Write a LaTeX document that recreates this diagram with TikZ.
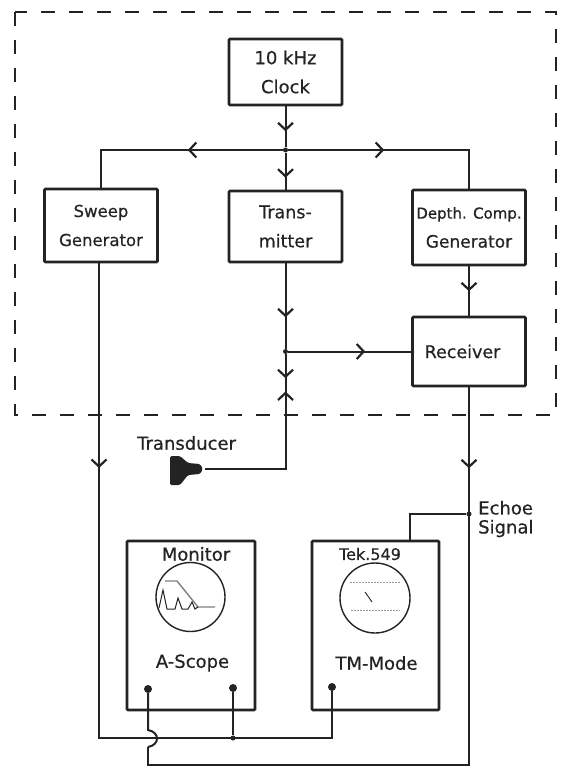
\documentclass[tikz,border=0pt]{standalone}
\usepackage{fontspec}
\setmainfont{DejaVu Sans}[RawFeature={embolden=0.5}]
\usetikzlibrary{arrows.meta,decorations.markings}
\definecolor{echoScopeInk}{RGB}{35,35,35}
\tikzset{echoScopeBlock/.style={
    font=\fontsize{16.5}{29}\selectfont,
    text=echoScopeInk,
    align=center,
    draw=echoScopeInk,
    line width=2.6pt,
    rounded corners=1pt,
    inner sep=0pt,
    minimum width=113pt,
    minimum height=71pt,
  }
}
\tikzset{echoScopeLabel/.style={
    font=\fontsize{18}{19}\selectfont,
    text=echoScopeInk,
    align=left,
    inner sep=0pt,
  }
}
\tikzset{echoScopeWire/.style={
    draw=echoScopeInk,
    line width=2pt,
  }
}
\tikzset{echoScopeArrow/.style={
    echoScopeWire,
    postaction={decorate},
    decoration={markings,
      mark=at position #1 with {\arrow[echoScopeInk]{Straight Barb[length=7pt,width=15pt,line width=2.2pt]}}},
  }
}
\tikzset{echoScopeDot/.style={
    circle,
    fill=echoScopeInk,
    inner sep=0pt,
    minimum size=#1,
  }
}
\begin{document}
\begin{tikzpicture}[x=1pt,y=-1pt]
  \useasboundingbox (0,0) rectangle (563,767);

  \draw [draw=echoScopeInk, line width=1.8pt, dash pattern=on 14pt off 14pt]
    (15,12) rectangle (556,415);

  \node [echoScopeBlock, minimum height=66pt, font=\fontsize{18}{29}\selectfont] (clock) at (285.5,72) {10 kHz\\Clock};
  \node [echoScopeBlock, minimum height=73pt] (sweep) at (101,225.5) {Sweep\\Generator};
  \node [echoScopeBlock, font=\fontsize{17.5}{29}\selectfont] (transmitter) at (285.5,226.5) {Trans-\\mitter};
  \node [echoScopeBlock, minimum height=75pt] (depth) at (469,227.5) {\fontsize{15}{29}\selectfont Depth. Comp.\\\fontsize{17}{29}\selectfont Generator};
  \node [echoScopeBlock, minimum height=69pt, font=\fontsize{17.5}{29}\selectfont] (receiver) at (469,351.5) {Receiver\hspace*{13pt}};
  \node [echoScopeBlock, minimum width=128pt, minimum height=169pt] (monitor) at (191,625.5) {};
  \node [echoScopeBlock, minimum width=127pt, minimum height=169pt] (tek) at (375.5,625.5) {};

  \node [echoScopeLabel] (monitorTitle) at (196,554) {Monitor};
  \node [echoScopeLabel] (aScope) at (192.5,663) {A-Scope};
  \node [echoScopeLabel, font=\fontsize{16}{19}\selectfont] (tekTitle) at (370,554) {Tek.549};
  \node [echoScopeLabel] (tmMode) at (376.5,663) {TM-Mode};
  \node [echoScopeLabel, anchor=west] (transducerText) at (137,443) {Transducer};
  \node [echoScopeLabel, anchor=west] (echoText) at (478,519) {Echoe\\Signal};

  % scope screens
  \node [draw=echoScopeInk, line width=1.4pt, circle, inner sep=0pt, minimum size=69pt] (monitorScreen) at (190.5,597) {};
  \node [draw=echoScopeInk, line width=1.4pt, circle, inner sep=0pt, minimum size=70pt] (tekScreen) at (375,598) {};
  \draw [gray, line width=1.4pt] (165,581) -- (177,581) -- (198,607) -- (215,607);
  \draw [echoScopeInk, line width=1pt] (159,608) -- (163,590) -- (167,609) -- (175,609) -- (178,598) -- (182,609) -- (188,609) -- (192,602) -- (195,609) -- (198,607);
  \draw [gray!80, line width=0.4pt, dash pattern=on 2pt off 1pt] (350,582) -- (400,582);
  \draw [gray!80, line width=0.4pt, dash pattern=on 2pt off 1pt] (351,610) -- (400,610);
  \draw [echoScopeInk, line width=0.9pt] (365,592) -- (372,602);

  % junctions and free ends
  \coordinate (busLeft) at (101,150);
  \coordinate (busRight) at (469,150);
  \node [echoScopeDot=5pt] (busJoint) at (285.5,150) {};
  \node [echoScopeDot=5pt] (receiverJoint) at (285.5,351.5) {};
  \node [echoScopeDot=5pt] (echoJoint) at (469,514) {};
  \node [echoScopeDot=5pt] (sharedJoint) at (233,738) {};
  \node [echoScopeDot=8pt] (pinA) at (148,689) {};
  \node [echoScopeDot=8pt] (pinB) at (233,688) {};
  \node [echoScopeDot=8pt] (pinC) at (332,687) {};
  \coordinate (tekEntry) at (410,541);
  \coordinate (sweepTop) at (99,262);
  \coordinate (sweepCorner) at (99,738);
  \coordinate (pinCCorner) at (332,738);
  \coordinate (hopTop) at (148,730);
  \coordinate (hopBottom) at (148,747);
  \coordinate (returnLeft) at (148,765);
  \coordinate (returnRight) at (469,765);
  \coordinate (plugEnd) at (205,469);
  \coordinate (plugCorner) at (285.5,469);
  \coordinate (arrowsMeet) at (285.5,381);

  % transducer plug
  \fill [echoScopeInk, rounded corners=1.5pt] (170,456) -- (180,456) -- (188,463) -- (200,464) -- (203,469)
    -- (200,474) -- (188,475) -- (180,485) -- (170,485) -- cycle;

  \draw [echoScopeArrow=25pt] (clock.south) -- (busJoint);
  \draw [echoScopeArrow=25pt] (busJoint) -- (transmitter.north);
  \draw [echoScopeArrow=95pt] (busJoint) -- (busLeft) -- (sweep.north);
  \draw [echoScopeArrow=96pt] (busJoint) -- (busRight) -- (depth.north);
  \draw [echoScopeArrow=54pt] (transmitter.south) -- (receiverJoint);
  \draw [echoScopeArrow=24pt] (receiverJoint) -- (arrowsMeet);
  \draw [echoScopeArrow=77pt] (receiverJoint) -- (receiver.west);
  \draw [echoScopeArrow=25pt] (depth.south) -- (receiver.north);
  \draw [echoScopeArrow=158pt] (plugEnd) -- (plugCorner) -- (arrowsMeet);
  \draw [echoScopeArrow=81pt] (receiver.south) -- (returnRight) -- (returnLeft) -- (hopBottom);
  \draw [echoScopeWire] (echoJoint) -| (tekEntry);
  \draw [echoScopeArrow=206pt] (sweepTop) -- (sweepCorner) -- (pinCCorner) -- (pinC);
  \draw [echoScopeWire] (pinB) -- (sharedJoint);
  \draw [echoScopeWire] (pinA) -- (hopTop) .. controls (160,732) and (160,745) .. (hopBottom);
\end{tikzpicture}
\end{document}
